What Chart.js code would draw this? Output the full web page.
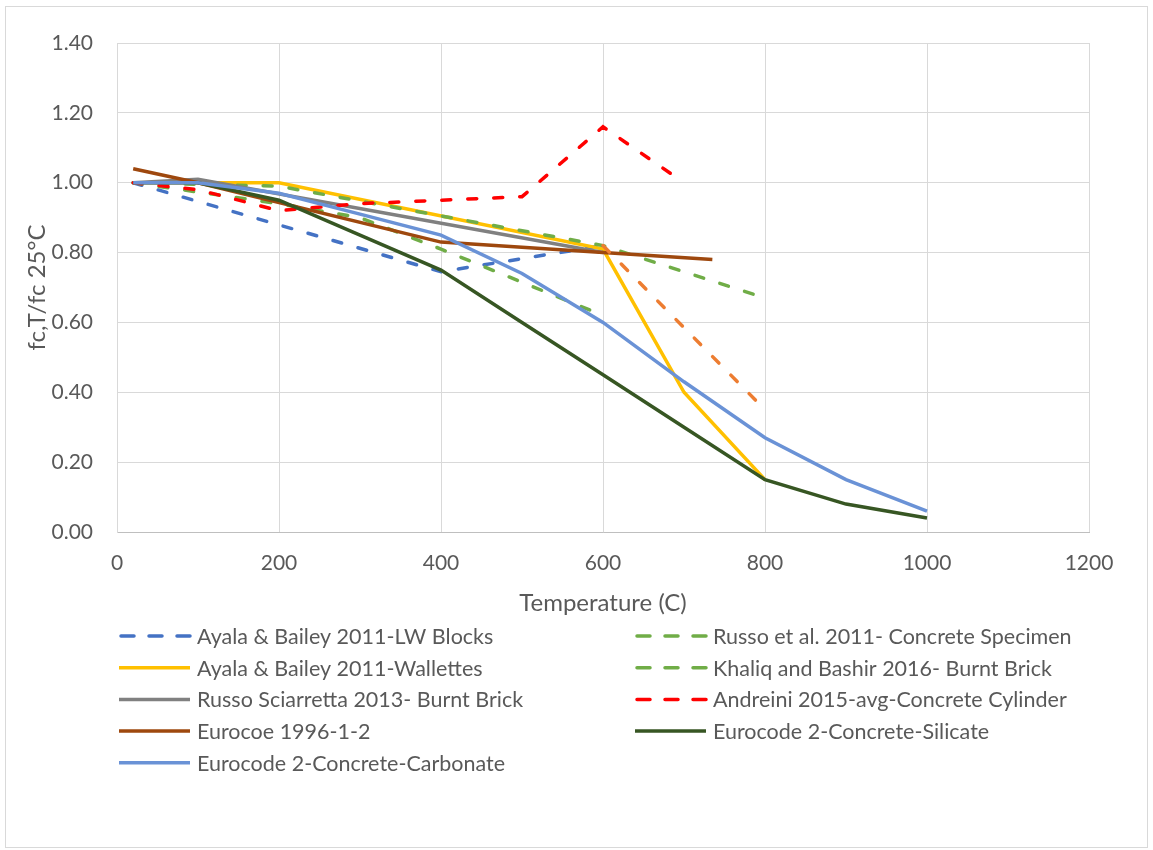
<!DOCTYPE html>
<html>
<head>
<meta charset="utf-8">
<script src="https://cdn.jsdelivr.net/npm/chart.js@4.4.1/dist/chart.umd.min.js"></script>
<style>
  html, body { margin: 0; padding: 0; background: #fff; }
  #wrap { position: relative; width: 1153px; height: 850px; }
</style>
</head>
<body>
<div id="wrap"><canvas id="chart" width="1153" height="850"></canvas></div>
<script>
// temperatures (C) and fc,T/fc 25C for each series
const lwBlocksT = [20, 400, 600];
const lwBlocksV = [1.00, 0.745, 0.82];

const russoSpecT = [20, 200, 300, 400, 600];
const russoSpecV = [1.00, 0.94, 0.90, 0.81, 0.62];

const wallettesT = [20, 200, 600, 700, 800];
const wallettesV = [1.00, 1.00, 0.81, 0.40, 0.15];

const khaliqT = [20, 200, 400, 600, 800];
const khaliqV = [1.00, 0.99, 0.905, 0.82, 0.67];

const sciarrettaT = [20, 100, 600];
const sciarrettaV = [1.00, 1.01, 0.80];

const andreiniT = [20, 100, 200, 300, 400, 500, 600, 700];
const andreiniV = [1.00, 0.98, 0.92, 0.94, 0.95, 0.96, 1.16, 1.00];

const eurocoeT = [20, 100, 400, 600, 735];
const eurocoeV = [1.04, 1.00, 0.83, 0.80, 0.78];

const ec2T = [20, 100, 200, 300, 400, 500, 600, 700, 800, 900, 1000];
const silicateV = [1.00, 1.00, 0.95, 0.85, 0.75, 0.60, 0.45, 0.30, 0.15, 0.08, 0.04];
const carbonateV = [1.00, 1.00, 0.97, 0.91, 0.85, 0.74, 0.60, 0.43, 0.27, 0.15, 0.06];

// extra series with no legend entry
const orangeT = [600, 800];
const orangeV = [0.82, 0.35];

const xTicks = [0, 200, 400, 600, 800, 1000, 1200];
const yTicks = [0, 0.2, 0.4, 0.6, 0.8, 1.0, 1.2, 1.4];

const pts = (t, v) => t.map((x, i) => ({ x: x, y: v[i] }));
const DASH = [9, 17];

const series = [
  { label: 'Ayala & Bailey 2011-LW Blocks', data: pts(lwBlocksT, lwBlocksV), color: '#4472C4', dash: DASH },
  { label: 'Russo et al. 2011- Concrete Specimen', data: pts(russoSpecT, russoSpecV), color: '#70AD47', dash: DASH },
  { label: 'Ayala & Bailey 2011-Wallettes', data: pts(wallettesT, wallettesV), color: '#FFC000', dash: [] },
  { label: 'Khaliq and Bashir 2016- Burnt Brick', data: pts(khaliqT, khaliqV), color: '#70AD47', dash: DASH },
  { label: 'Russo Sciarretta 2013- Burnt Brick', data: pts(sciarrettaT, sciarrettaV), color: '#808080', dash: [] },
  { label: 'Andreini 2015-avg-Concrete Cylinder', data: pts(andreiniT, andreiniV), color: '#FF0000', dash: DASH },
  { label: 'Eurocoe 1996-1-2', data: pts(eurocoeT, eurocoeV), color: '#9E480E', dash: [] },
  { label: 'Eurocode 2-Concrete-Silicate', data: pts(ec2T, silicateV), color: '#375623', dash: [] },
  { label: 'Eurocode 2-Concrete-Carbonate', data: pts(ec2T, carbonateV), color: '#6A92D6', dash: [] },
  { label: '', data: pts(orangeT, orangeV), color: '#ED7D31', dash: DASH, hidden: true }
];

const datasets = series.map((s, i) => ({
  label: s.label,
  data: s.data,
  borderColor: s.color,
  backgroundColor: s.color,
  borderDash: s.dash,
  borderCapStyle: s.dash.length ? 'round' : 'butt',
  borderWidth: 3.5,
  pointRadius: 0,
  tension: 0,
  fill: false,
  order: -i,
  noLegend: !!s.hidden
}));

const TEXT = '#595959';
const FONT = 'Lato, "Open Sans", sans-serif';

// two-column legend below the plot, drawn on the canvas
const legendPlugin = {
  id: 'excelLegend',
  beforeDraw(chart) {
    const ctx = chart.ctx;
    ctx.save();
    ctx.fillStyle = '#fff';
    ctx.fillRect(0, 0, chart.width, chart.height);
    ctx.strokeStyle = '#d9d9d9';
    ctx.lineWidth = 1;
    ctx.strokeRect(5.5, 6.5, 1142, 841);
    ctx.restore();
  },
  afterDraw(chart) {
    const ctx = chart.ctx;
    const items = chart.data.datasets.filter(d => !d.noLegend);
    const colX = [119, 635];
    const rowY0 = 636, rowH = 31.7;
    ctx.save();
    ctx.font = '21.5px ' + FONT;
    ctx.textBaseline = 'middle';
    ctx.fillStyle = TEXT;
    items.forEach((d, i) => {
      const x = colX[i % 2];
      const y = rowY0 + Math.floor(i / 2) * rowH;
      ctx.beginPath();
      ctx.strokeStyle = d.borderColor;
      ctx.lineWidth = 3.5;
      ctx.lineCap = d.borderDash.length ? 'round' : 'butt';
      ctx.setLineDash(d.borderDash.length ? [13, 15] : []);
      ctx.moveTo(x + (d.borderDash.length ? 2 : 0), y);
      ctx.lineTo(x + 71, y);
      ctx.stroke();
      ctx.setLineDash([]);
      ctx.fillText(d.label, x + 78, y + 1);
    });
    ctx.restore();
  }
};

new Chart(document.getElementById('chart'), {
  type: 'line',
  data: { datasets: datasets },
  plugins: [legendPlugin],
  options: {
    responsive: false,
    animation: false,
    devicePixelRatio: 1,
    layout: { padding: { left: 0, top: 43, right: 64, bottom: 230 } },
    plugins: {
      legend: { display: false },
      tooltip: { enabled: false }
    },
    scales: {
      x: {
        type: 'linear',
        min: 0,
        max: 1200,
        afterFit: s => { s.height = 88; },
        afterBuildTicks: s => { s.ticks = xTicks.map(v => ({ value: v })); },
        ticks: { color: TEXT, font: { family: FONT, size: 21 }, padding: 19, maxRotation: 0, callback: v => String(v) },
        grid: { color: '#d9d9d9', lineWidth: 1, drawTicks: false },
        border: { color: '#bfbfbf', width: 1 },
        title: { display: true, text: 'Temperature (C)', color: TEXT, font: { family: FONT, size: 24 }, padding: { top: 0, bottom: 2 } }
      },
      y: {
        type: 'linear',
        min: 0,
        max: 1.4,
        afterFit: s => { s.width = 117; },
        afterBuildTicks: s => { s.ticks = yTicks.map(v => ({ value: v })); },
        ticks: { color: TEXT, font: { family: FONT, size: 21 }, padding: 24, callback: v => v.toFixed(2) },
        grid: { color: '#d9d9d9', lineWidth: 1, drawTicks: false },
        border: { color: '#d9d9d9', width: 1 },
        title: { display: true, text: 'fc,T/fc 25°C', color: TEXT, font: { family: FONT, size: 24 }, padding: { top: 23, bottom: 0 } }
      }
    }
  }
});
</script>
</body>
</html>
